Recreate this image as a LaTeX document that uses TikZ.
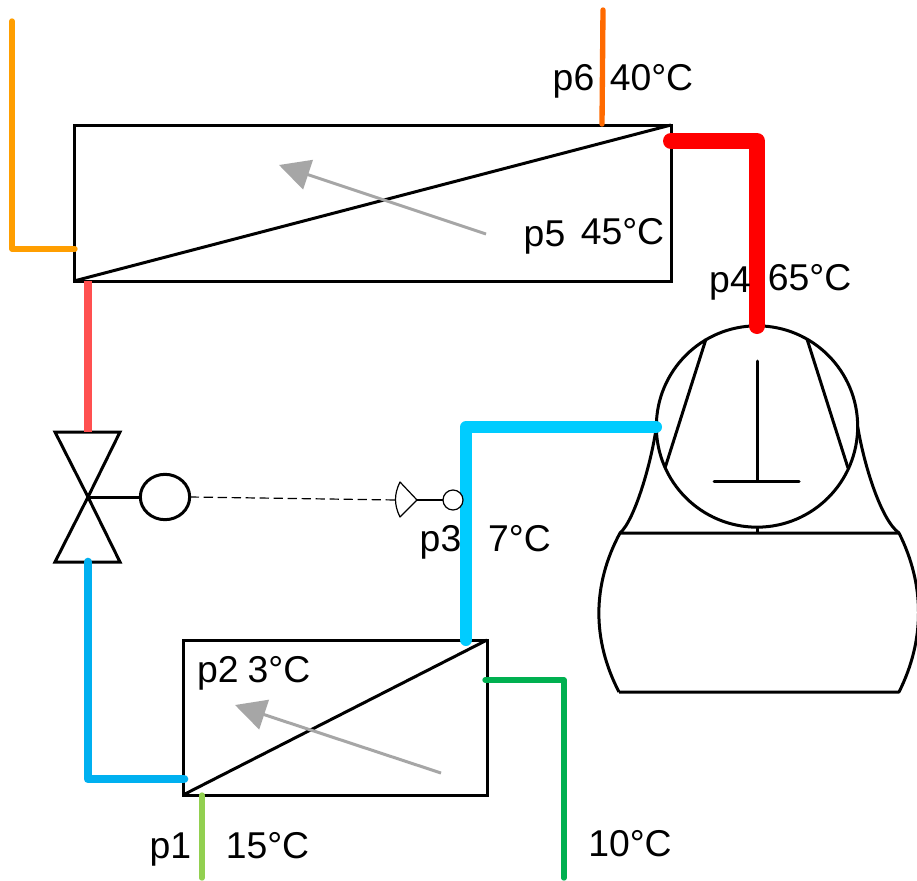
\documentclass[tikz,border=0pt]{standalone}
\usepackage{fontspec}
\setmainfont{Liberation Sans}
\usetikzlibrary{arrows.meta,positioning,calc,shapes.geometric}
\definecolor{pipeorange}{HTML}{FF9E00}
\definecolor{pipedeep}{HTML}{FF6A00}
\definecolor{pipered}{HTML}{FF0000}
\definecolor{pipesalmon}{HTML}{FF5050}
\definecolor{pipeblue}{HTML}{00B0F0}
\definecolor{pipecyan}{HTML}{00CCFF}
\definecolor{pipelime}{HTML}{92D050}
\definecolor{pipegreen}{HTML}{00B050}
\definecolor{flowgray}{HTML}{A6A6A6}
\tikzset{
  heatbox/.style={draw,line width=2.25pt,inner sep=0pt,outer sep=0pt,line join=miter},
  part/.style={line width=2.25pt},
  pipe/.style={line cap=round,line join=round},
  flow/.style={flowgray,line width=2.25pt,-{Triangle[length=23pt,width=23pt]}},
  lbl/.style={font=\fontsize{28}{30}\selectfont,inner sep=0pt,anchor=base},
}
\begin{document}
\begin{tikzpicture}[x=0.75pt,y=-0.75pt,>=latex]
  \useasboundingbox[fill=white] (0,0) rectangle (917,881);

  % heat exchangers
  \node[heatbox,minimum width=447.75pt,minimum height=117pt] (cond) at (372.5,203) {};
  \node[heatbox,minimum width=228pt,minimum height=116.25pt] (evap) at (335,717.5) {};
  \draw[part] (cond.south west)--(cond.north east);
  \draw[part] (evap.south west)--(evap.north east);
  \coordinate (flowAa) at (486,234);
  \coordinate (flowAb) at (279,165);
  \coordinate (flowBa) at (441,773);
  \coordinate (flowBb) at (235,705);
  \draw[flow] (flowAa)--(flowAb);
  \draw[flow] (flowBa)--(flowBb);

  % compressor
  \node[draw,circle,part,minimum size=151pt,inner sep=0pt,outer sep=0pt] (head) at (757,426.5) {};
  \coordinate (bodyNW) at (620,533);
  \coordinate (bodyNE) at (899,533);
  \coordinate (bodySW) at (619,692);
  \coordinate (bodySE) at (899,692);
  \draw[part,line join=round] (bodySW)--(bodySE) .. controls (925,640) and (925,585) .. (bodyNE)--(bodyNW)
     .. controls (592,585) and (592,640) .. (bodySW);
  \draw[part] (bodyNW) .. controls (635,520) and (652,460) .. (head.west);
  \draw[part] (bodyNE) .. controls (881,520) and (864,465) .. (head.east);
  \draw[part] (head.south)--(757,533);
  \draw[part] (706,339)--(665,468);
  \draw[part] (807,339)--(848,468);
  \draw[part,line cap=round] (757,361)--(757,481);
  \draw[part,line cap=round] (714,481)--(799,481);

  % valve
  \coordinate (valveC) at (88,497);
  \coordinate (valveT) at (88,432);
  \coordinate (valveB) at (88,562);
  \draw[part,line join=miter] (valveC)--(55,432)--(120,432)--cycle;
  \draw[part,line join=miter] (valveC)--(55,562)--(120,562)--cycle;
  \node[draw,ellipse,part,minimum width=37pt,minimum height=34pt,inner sep=0pt,outer sep=0pt] (bulb) at (165,497) {};
  \draw[part] (valveC)--(bulb.west);

  % pipes
  \coordinate (orgA) at (12,21);
  \coordinate (orgB) at (12,249);
  \coordinate (orgC) at (75,249);
  \draw[pipe,pipeorange,line width=4pt] (orgA)--(orgB)--(orgC);
  \coordinate (deepA) at (603,10);
  \coordinate (deepB) at (602,124);
  \draw[pipedeep,line width=4pt,line cap=round] (deepA)--(deepB);
  \coordinate (redA) at (671,141);
  \coordinate (redB) at (757,141);
  \coordinate (redC) at (757,326);
  \draw[pipe,pipered,line width=12pt] (redA)--(redB)--(redC);
  \coordinate (salA) at (88,281);
  \draw[pipesalmon,line width=6pt] (salA)--(valveT);
  \coordinate (bluA) at (88,562);
  \coordinate (bluB) at (88,779);
  \coordinate (bluC) at (184,779);
  \draw[pipe,pipeblue,line width=6.5pt] (bluA)--(bluB)--(bluC);
  \coordinate (cyaA) at (466,640);
  \coordinate (cyaB) at (466,427);
  \coordinate (cyaC) at (656,427);
  \draw[pipe,pipecyan,line width=9pt] (cyaA)--(cyaB)--(cyaC);
  \coordinate (limA) at (202,795);
  \coordinate (limB) at (202,878);
  \draw[pipelime,line width=4pt,line cap=round] (limA)--(limB);
  \coordinate (grnA) at (485,680);
  \coordinate (grnB) at (564,680);
  \coordinate (grnC) at (564,878);
  \draw[pipe,pipegreen,line width=4pt] (grnA)--(grnB)--(grnC);

  % sensor
  \node[draw,circle,fill=white,line width=0.9pt,minimum size=15pt,inner sep=0pt,outer sep=0pt] (sens) at (453,500) {};
  \coordinate (tip) at (417,500);
  \coordinate (cone) at (397,500);
  \draw[line width=0.9pt,line join=round] (tip)--(400,482) .. controls (394,494) and (394,505) .. (400,517)--cycle;
  \draw[line width=0.9pt] (tip)--(sens);
  \draw[dashed,line width=0.9pt,dash pattern=on 7pt off 3.5pt] (bulb.east)--(cone);

  % labels
  \node[lbl] (p6) at (573.5,90) {p6};
  \node[lbl] (t6) at (651.5,90) {40°C};
  \node[lbl] (p5) at (544.5,246) {p5};
  \node[lbl] (t5) at (622.5,244) {45°C};
  \node[lbl] (p4) at (730,292) {p4};
  \node[lbl] (t4) at (809.5,290) {65°C};
  \node[lbl] (p3) at (440.5,551) {p3};
  \node[lbl] (t3) at (519.5,551) {7°C};
  \node[lbl] (p2) at (218,682) {p2};
  \node[lbl] (t2) at (279,682) {3°C};
  \node[lbl] (p1) at (170.5,858) {p1};
  \node[lbl] (t1) at (267.5,858) {15°C};
  \node[lbl] (t7) at (630,856) {10°C};
\end{tikzpicture}
\end{document}
